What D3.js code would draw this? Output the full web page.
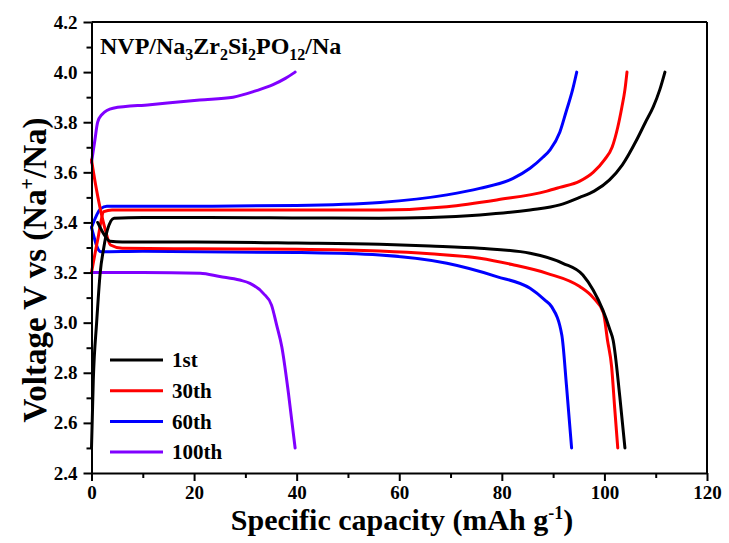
<!DOCTYPE html>
<html>
<head>
<meta charset="utf-8">
<script src="https://cdn.jsdelivr.net/npm/d3@7/dist/d3.min.js"></script>
<style>
  html, body { margin: 0; padding: 0; background: #fff; }
  svg text { font-family: "Liberation Serif", "Times New Roman", serif; font-weight: bold; fill: #000; }
</style>
</head>
<body>
<svg id="chart" width="729" height="543"></svg>
<script>
// Galvanostatic charge/discharge profiles, [capacity mAh/g, voltage V]
const cycleNames = ["1st", "30th", "60th", "100th"];

const charge1 = [[0,2.5],[0.35,2.77],[1.0,3.0],[1.7,3.2],[2.4,3.3],[3.1,3.37],[4.4,3.417],[10,3.42],[20,3.42],[40,3.418],[56,3.417],[66,3.42],[75.7,3.43],[85.5,3.45],[91.3,3.47],[95.2,3.5],[98,3.525],[101,3.57],[103.5,3.63],[106.3,3.73],[108,3.8],[109.5,3.86],[110.8,3.93],[111.8,4.0]];
const discharge1 = [[1.2,3.40],[2.5,3.35],[3.6,3.325],[6,3.322],[20,3.322],[40,3.318],[56.2,3.313],[66,3.306],[75.7,3.297],[85.5,3.277],[91.9,3.237],[95.8,3.19],[97.8,3.13],[99.7,3.05],[101.1,2.97],[101.7,2.93],[103,2.705],[104,2.5]];

const charge30 = [[0,3.2],[1.2,3.33],[2.4,3.443],[4,3.45],[20,3.45],[40,3.45],[56.3,3.45],[69.3,3.463],[79,3.49],[88.8,3.525],[91.3,3.54],[95.2,3.565],[97.8,3.6],[100,3.65],[101.5,3.7],[102.6,3.78],[103.4,3.86],[104,3.93],[104.4,4.0]];
const discharge30 = [[0,3.65],[0.8,3.55],[1.65,3.46],[2.7,3.37],[3.7,3.31],[6,3.297],[20,3.295],[40,3.293],[56.2,3.286],[66,3.275],[75.7,3.257],[82,3.232],[88.8,3.197],[95.2,3.144],[97.8,3.1],[99.8,3.04],[100.6,2.93],[101.4,2.825],[102,2.66],[102.6,2.5]];

const charge60 = [[0,3.38],[1.8,3.455],[3,3.465],[20,3.465],[40,3.468],[56.3,3.48],[69.3,3.51],[75.7,3.536],[82.2,3.576],[85.5,3.616],[88,3.66],[89.4,3.69],[91.3,3.76],[92.5,3.84],[93.8,3.93],[94.6,4.0]];
const discharge60 = [[0,3.38],[1.8,3.283],[10,3.285],[40,3.28],[56.2,3.27],[69.3,3.237],[79,3.184],[85.5,3.137],[88.4,3.09],[89.7,3.064],[91.7,2.95],[92.6,2.75],[93.6,2.5]];

const charge100 = [[0,3.64],[0.6,3.72],[1.2,3.8],[2,3.83],[4.2,3.856],[11.4,3.87],[21.1,3.889],[27.6,3.9],[32,3.925],[35.4,3.95],[37.8,3.975],[39.7,4.0]];
const discharge100 = [[0,3.2],[10,3.2],[21.2,3.197],[25,3.184],[28.9,3.17],[30.9,3.157],[33.5,3.117],[35.1,3.07],[36.1,2.99],[37.1,2.904],[38.4,2.718],[39.7,2.5]];

const xTickValues = [0, 20, 40, 60, 80, 100, 120];
const yTickValues = [2.4, 2.6, 2.8, 3.0, 3.2, 3.4, 3.6, 3.8, 4.0, 4.2];

const series = [
  { name: cycleNames[0], color: "#000000", curves: [charge1, discharge1] },
  { name: cycleNames[1], color: "#ff0000", curves: [charge30, discharge30] },
  { name: cycleNames[2], color: "#0000ff", curves: [charge60, discharge60] },
  { name: cycleNames[3], color: "#8000ff", curves: [charge100, discharge100] }
];

const svg = d3.select("#chart");
const plotLeft = 91.5, plotRight = 707, plotTop = 22, plotBottom = 473;

const x = d3.scaleLinear().domain([0, 120]).range([plotLeft, plotRight]);
const y = d3.scaleLinear().domain([2.4, 4.2]).range([plotBottom, plotTop]);

svg.append("clipPath").attr("id", "plotClip")
  .append("rect").attr("x", plotLeft - 2).attr("y", plotTop)
  .attr("width", plotRight - plotLeft + 2).attr("height", plotBottom - plotTop);

const line = d3.line().x(d => x(d[0])).y(d => y(d[1])).curve(d3.curveMonotoneX);

const plot = svg.append("g").attr("clip-path", "url(#plotClip)");
series.slice().reverse().forEach(s => {
  s.curves.forEach(c => {
    plot.append("path").attr("d", line(c))
      .attr("fill", "none").attr("stroke", s.color)
      .attr("stroke-width", 3).attr("stroke-linejoin", "round").attr("stroke-linecap", "round");
  });
});

// Axes: major ticks labelled, minor ticks in between
const minorX = d3.range(10, 120, 20);
const minorY = d3.range(2.5, 4.2, 0.2);

const xAxis = svg.append("g").attr("transform", `translate(0,${plotBottom})`)
  .call(d3.axisBottom(x).tickValues(xTickValues).tickSize(8).tickSizeOuter(0).tickPadding(5).tickFormat(d3.format("d")));
svg.append("g").attr("transform", `translate(0,${plotBottom})`)
  .call(d3.axisBottom(x).tickValues(minorX).tickSize(5).tickSizeOuter(0).tickFormat(""))
  .select(".domain").remove();

const yAxis = svg.append("g").attr("transform", `translate(${plotLeft},0)`)
  .call(d3.axisLeft(y).tickValues(yTickValues).tickSize(8).tickSizeOuter(0).tickPadding(6).tickFormat(d3.format(".1f")));
svg.append("g").attr("transform", `translate(${plotLeft},0)`)
  .call(d3.axisLeft(y).tickValues(minorY).tickSize(5).tickSizeOuter(0).tickFormat(""))
  .select(".domain").remove();

svg.selectAll(".domain, .tick line").attr("stroke", "#000").attr("stroke-width", 2);
svg.selectAll(".tick text").style("font-size", "19px")
  .style("font-family", "Liberation Serif").style("font-weight", "bold");

// Top and right frame lines
svg.append("line").attr("x1", plotLeft).attr("x2", plotRight).attr("y1", plotTop).attr("y2", plotTop)
  .attr("stroke", "#000").attr("stroke-width", 2);
svg.append("line").attr("x1", plotRight).attr("x2", plotRight).attr("y1", plotTop).attr("y2", plotBottom)
  .attr("stroke", "#000").attr("stroke-width", 2);

// Axis titles
const xt = svg.append("text").attr("x", 402).attr("y", 530).attr("text-anchor", "middle").style("font-size", "30px");
xt.append("tspan").text("Specific capacity (mAh g");
xt.append("tspan").attr("dy", -11).style("font-size", "18px").text("-1");
xt.append("tspan").attr("dy", 11).text(")");

const yt = svg.append("text").attr("transform", "translate(46,270) rotate(-90)").attr("text-anchor", "middle").style("font-size", "33px");
yt.append("tspan").text("Voltage V vs (Na");
yt.append("tspan").attr("dy", -12).style("font-size", "20px").text("+");
yt.append("tspan").attr("dy", 12).text("/Na)");

// Cell label with subscripts
const lbl = svg.append("text").attr("x", 100).attr("y", 54).style("font-size", "24px");
const parts = [["NVP/Na", false], ["3", true], ["Zr", false], ["2", true], ["Si", false], ["2", true], ["PO", false], ["12", true], ["/Na", false]];
let sub = false;
parts.forEach(([t, isSub]) => {
  const ts = lbl.append("tspan").text(t);
  if (isSub && !sub) ts.attr("dy", 6);
  if (!isSub && sub) ts.attr("dy", -6);
  if (isSub) ts.style("font-size", "16px");
  sub = isSub;
});

// Legend
const legend = svg.append("g");
series.forEach((s, i) => {
  const ly = 360 + i * 30.7;
  legend.append("line").attr("x1", 110).attr("x2", 163).attr("y1", ly).attr("y2", ly)
    .attr("stroke", s.color).attr("stroke-width", 3);
  legend.append("text").attr("x", 172).attr("y", ly).attr("dy", "0.35em").style("font-size", "21px").text(s.name);
});
</script>
</body>
</html>
